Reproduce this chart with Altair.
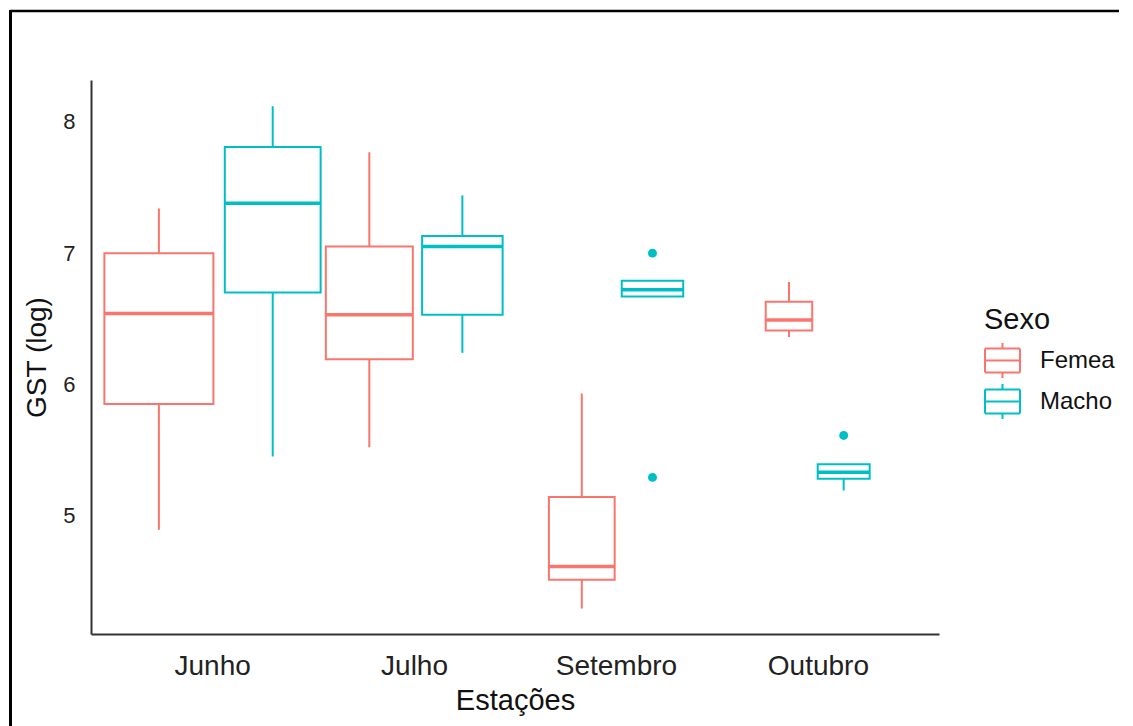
import json
import numpy as np
import pandas as pd
import altair as alt

# ---------------- data ----------------
estacoes = ["Junho", "Julho", "Setembro", "Outubro"]
sexos = ["Femea", "Macho"]
cores = ["#F8766D", "#00BFC4"]

box_estacao = ["Junho", "Junho", "Julho", "Julho", "Setembro", "Setembro", "Outubro", "Outubro"]
box_sexo = ["Femea", "Macho", "Femea", "Macho", "Femea", "Macho", "Femea", "Macho"]
box_n = [22, 17, 14, 12, 8, 7, 4, 5]  # estimated group sizes (varwidth boxes)
whisker_low = [4.89, 5.45, 5.52, 6.24, 4.29, 6.67, 6.36, 5.19]
q1 = [5.85, 6.70, 6.19, 6.53, 4.51, 6.67, 6.41, 5.28]
median = [6.54, 7.38, 6.53, 7.05, 4.61, 6.72, 6.49, 5.33]
q3 = [7.00, 7.81, 7.05, 7.13, 5.14, 6.79, 6.63, 5.39]
whisker_high = [7.34, 8.12, 7.77, 7.44, 5.93, 6.79, 6.78, 5.39]

out_estacao = ["Setembro", "Setembro", "Outubro"]
out_sexo = ["Macho", "Macho", "Macho"]
out_value = [7.00, 5.29, 5.61]

y_ticks = [5, 6, 7, 8]

# ---------------- ggplot-like varwidth + dodge2 layout ----------------
BOX_WIDTH = 1.2
DODGE_PADDING = 0.1

df = pd.DataFrame({
    "estacao": box_estacao, "sexo": box_sexo, "n": box_n,
    "ymin": whisker_low, "lower": q1, "middle": median,
    "upper": q3, "ymax": whisker_high,
})
nmax = max(box_n)
df["slot"] = BOX_WIDTH * np.sqrt(df["n"] / nmax) / 2
centers = []
for est, g in df.groupby("estacao", sort=False):
    c = estacoes.index(est) + 1
    start = c - g["slot"].sum() / 2
    for s in g["slot"]:
        centers.append(start + s / 2)
        start += s
df["center"] = centers
df["half"] = df["slot"] * (1 - DODGE_PADDING) / 2
df["xmin"] = df["center"] - df["half"]
df["xmax"] = df["center"] + df["half"]

out = pd.DataFrame({"estacao": out_estacao, "sexo": out_sexo, "value": out_value})
out = out.merge(df[["estacao", "sexo", "center"]], on=["estacao", "sexo"])

# ---------------- chart ----------------
FONT = "Liberation Sans"
label_expr = json.dumps([""] + estacoes) + "[datum.value]"

x_scale = alt.Scale(domain=[0.4, 4.6], nice=False, zero=False)
y_scale = alt.Scale(domain=[4.096, 8.32], nice=False, zero=False)
col_scale = alt.Scale(domain=sexos, range=cores)

x_axis = alt.Axis(values=[1, 2, 3, 4], labelExpr=label_expr, title="Estações",
                  grid=False, ticks=False, tickSize=0, labelPadding=18, titlePadding=6,
                  labelFontSize=28, titleFontSize=29, labelFont=FONT, titleFont=FONT,
                  labelColor="#222", titleColor="#111", titleFontWeight="normal",
                  domainColor="#333", domainWidth=2, labelFlush=False)
y_axis = alt.Axis(values=y_ticks, title="GST (log)", grid=False, ticks=False, tickSize=0,
                  labelPadding=16, titlePadding=11, labelFontSize=22, titleFontSize=28,
                  labelFont=FONT, titleFont=FONT, labelColor="#222", titleColor="#111",
                  titleFontWeight="normal", domainColor="#333", domainWidth=2)

# boxplot glyph made of separate straight strokes (no fillable area)
box_path = ("M-1,-0.69H1 M1,-0.69V0.69 M1,0.69H-1 M-1,0.69V-0.69 "
            "M-1,0H1 M0,-0.69V-1 M0,0.69V1")
legend = alt.Legend(title="Sexo", orient="none", legendX=893, legendY=226,
                    symbolType=box_path, symbolSize=1225, symbolStrokeWidth=2,
                    titleFontSize=29, labelFontSize=24,
                    titleFont=FONT, labelFont=FONT, titleColor="#111", labelColor="#111",
                    titleFontWeight="normal", titlePadding=7, rowPadding=-2,
                    labelOffset=19, padding=0)

stroke_leg = alt.Stroke("sexo:N", scale=col_scale, legend=legend)
stroke = alt.Stroke("sexo:N", scale=col_scale, legend=None)

base = alt.Chart(df)

whiskers = base.mark_rule(strokeWidth=2).encode(
    x=alt.X("center:Q", scale=x_scale, axis=x_axis),
    y=alt.Y("ymin:Q", scale=y_scale, axis=y_axis),
    y2="ymax:Q",
    stroke=stroke_leg,
)
boxes = base.mark_rect(fill="white", strokeWidth=2).encode(
    x=alt.X("xmin:Q", scale=x_scale, axis=x_axis),
    x2="xmax:Q",
    y=alt.Y("lower:Q", scale=y_scale, axis=y_axis),
    y2="upper:Q",
    stroke=stroke,
)
medians = base.mark_rule(strokeWidth=3.5).encode(
    x=alt.X("xmin:Q", scale=x_scale, axis=x_axis),
    x2="xmax:Q",
    y=alt.Y("middle:Q", scale=y_scale, axis=y_axis),
    stroke=stroke,
)
outliers = alt.Chart(out).mark_circle(size=80, opacity=1).encode(
    x=alt.X("center:Q", scale=x_scale, axis=x_axis),
    y=alt.Y("value:Q", scale=y_scale, axis=y_axis),
    fill=alt.Fill("sexo:N", scale=col_scale, legend=None),
)

frame_src = alt.Chart(pd.DataFrame({"k": [0]}))
frame_top = frame_src.mark_rule(color="black", strokeWidth=2.5).encode(
    x=alt.value(-81), x2=alt.value(1028), y=alt.value(-69))
frame_left = frame_src.mark_rule(color="black", strokeWidth=3).encode(
    x=alt.value(-80.5), y=alt.value(-70), y2=alt.value(648))

chart = alt.layer(whiskers, boxes, medians, outliers, frame_top, frame_left).properties(
    width=848, height=554,
    padding=0,
    background="white",
).configure_view(stroke=None)

chart.save("out.html", embed_options={"renderer": "svg", "actions": False})
